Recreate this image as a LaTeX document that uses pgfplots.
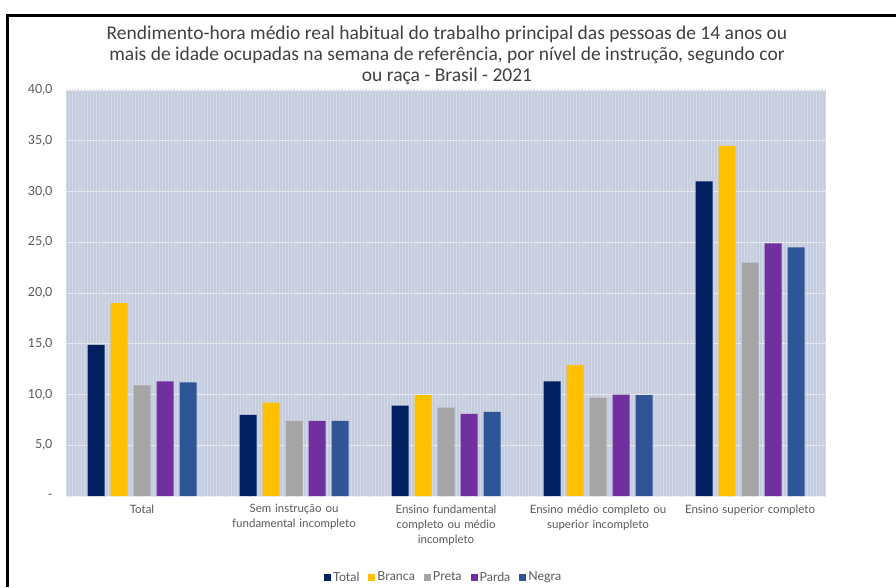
\documentclass[border=0pt]{standalone}
\usepackage{pgfplots}
\pgfplotsset{compat=1.18}
\usepackage{fontspec}
\setmainfont{Lato}
\newfontfamily\titlefont{Carlito}
\usetikzlibrary{patterns}
\definecolor{cTotal}{HTML}{002060}
\definecolor{cBranca}{HTML}{FFC000}
\definecolor{cPreta}{HTML}{A5A5A5}
\definecolor{cParda}{HTML}{7030A0}
\definecolor{cNegra}{HTML}{2F5597}
\definecolor{bgblue}{HTML}{C4CCDD}
\definecolor{txtgray}{HTML}{595959}
\definecolor{titlegray}{HTML}{404040}
\begin{document}
\begin{tikzpicture}
\useasboundingbox (0pt,0pt) rectangle (896pt,587pt);
\draw[line width=3pt] (7pt,0pt) -- (7pt,571pt) -- (896pt,571pt);
\node[font=\titlefont\fontsize{19.5}{21}\selectfont, text=titlegray, align=center] at (447pt,532pt)
{Rendimento-hora médio real habitual do trabalho principal das pessoas de 14 anos ou\\
mais de idade ocupadas na semana de referência, por nível de instrução, segundo cor\\
ou raça - Brasil - 2021};
\begin{axis}[
  at={(66pt,91pt)}, anchor=south west,
  width=760pt, height=406pt, scale only axis,
  ybar=6pt, bar width=17pt,
  xmin=-0.5, xmax=4.5, ymin=0, ymax=40,
  xtick={0,1,2,3,4},
  xticklabels={Total,
    {Sem instrução ou\\fundamental incompleto},
    {Ensino fundamental\\completo ou médio\\incompleto},
    {Ensino médio completo ou\\superior incompleto},
    {Ensino superior completo}},
  xticklabel style={align=center, text width=150pt, font=\fontsize{11.5}{15}\selectfont, text=txtgray, yshift=-5pt},
  ytick={0,5,10,15,20,25,30,35,40},
  yticklabels={-,{5,0},{10,0},{15,0},{20,0},{25,0},{30,0},{35,0},{40,0}},
  yticklabel style={font=\fontsize{12.5}{14}\selectfont, text=txtgray, xshift=-10pt},
  major tick length=0pt,
  axis line style={draw=none},
  ymajorgrids, grid style={white!70!bgblue, line width=0.8pt, dash pattern=on 3pt off 1pt},
  axis background/.style={fill=bgblue, postaction={pattern=vertical lines, pattern color=white!25!bgblue}},
  legend columns=5,
  legend style={draw=none, fill=none, at={(0.497,-0.2)}, anchor=center,
    font=\fontsize{12.4}{14}\selectfont, text=txtgray,
    /tikz/every even column/.append style={column sep=7pt}},
  legend image code/.code={\fill[#1] (0pt,-3.5pt) rectangle (7pt,3.5pt);},
]
\addplot[fill=cTotal, draw=none] coordinates {(0,14.9) (1,8.0) (2,8.9) (3,11.3) (4,31.0)};
\addplot[fill=cBranca, draw=none] coordinates {(0,19.0) (1,9.2) (2,9.95) (3,12.9) (4,34.5)};
\addplot[fill=cPreta, draw=none] coordinates {(0,10.9) (1,7.4) (2,8.7) (3,9.7) (4,23.0)};
\addplot[fill=cParda, draw=none] coordinates {(0,11.3) (1,7.4) (2,8.1) (3,10.0) (4,24.9)};
\addplot[fill=cNegra, draw=none] coordinates {(0,11.2) (1,7.4) (2,8.3) (3,9.95) (4,24.5)};
\legend{Total,Branca,Preta,Parda,Negra}
\end{axis}
\end{tikzpicture}
\end{document}
